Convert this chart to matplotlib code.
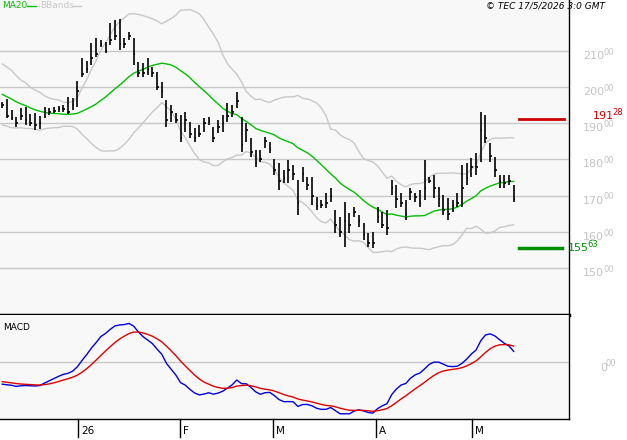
import numpy as np
import pandas as pd
import matplotlib
matplotlib.use("Agg")
import matplotlib.pyplot as plt

# prior closes (history for indicators, not drawn as bars)
prior_close = [196,198,201,203,205,207,209,210,211,210,212,211,213,212,210,211,209,208,207,206,
               207,205,204,206,203,201,202,200,198,199,197,196,195,197,194,193,195,192,193,194]

high = [195.9,196.7,193.6,191.7,194.2,194.5,192.5,192.8,192.0,194.5,194.2,194.5,194.8,195.0,197.2,196.9,201.6,
        208.0,207.2,212.2,213.5,213.0,212.4,217.7,218.5,218.8,213.5,215.2,213.5,206.9,206.6,208.0,205.5,204.1,
        201.4,196.4,195.0,192.8,192.3,193.1,190.3,188.7,189.5,
        191.4,191.7,189.0,190.9,192.3,195.6,195.0,198.6,191.7,190.1,185.9,182.6,182.6,186.2,184.8,180.1,179.0,
        177.1,179.8,178.5,174.3,177.9,175.1,175.1,169.6,168.8,170.7,172.1,166.0,164.1,168.2,165.2,166.9,164.6,
        162.4,159.7,159.9,166.9,165.5,166.0,
        174.3,172.9,170.7,168.8,172.1,170.7,171.5,179.8,175.1,175.7,172.4,170.2,169.3,168.8,170.7,178.5,179.0,
        180.4,181.8,193.1,192.3,184.5,180.7,175.7,175.7,175.7,172.9]
low = [194.2,191.4,190.9,189.0,190.9,189.5,189.2,188.1,188.4,191.4,192.3,192.8,193.1,193.1,192.5,193.6,194.5,
       202.8,203.9,206.1,208.3,211.0,209.4,211.6,213.0,210.2,210.8,213.0,206.1,202.8,202.8,203.3,202.8,199.2,
       197.0,189.0,190.3,190.1,184.8,187.6,185.9,184.8,186.2,
       187.6,189.5,184.8,187.3,187.6,190.3,191.7,194.2,182.0,184.8,180.7,177.9,179.3,183.1,181.8,175.7,171.5,
       173.5,173.5,174.3,164.6,173.8,171.5,167.4,166.0,166.6,166.6,168.2,159.7,158.6,155.8,159.7,164.1,161.3,
       157.7,155.8,155.5,162.4,161.0,159.1,
       170.2,166.6,166.9,163.3,168.8,168.2,166.9,168.8,173.5,169.3,166.9,164.6,163.3,165.5,166.9,166.9,172.9,
       175.1,175.7,179.3,184.5,179.3,175.1,172.1,172.1,172.9,168.2]
close = [195,192,191.5,190,192,191,190,189.5,190,193,193,193.5,194,194,193,195,199,
         203.5,205,208,209,212,210,213,214,212,212,214,209,204,204,205,204,200,
         199,191,193,191,186,191,187,186,187,
         190,190.5,186,189,190,192,193,196,184,188,182,179,180,185,183,177,174,
         175,177,176,168,176,173,170,167,167.5,168,170,162,160,163,162,165.5,163,
         159,157,157,164,162,161,
         172,169,168,165,171,169.5,168,172,174,172,169,166,165,167,168,172,175,
         178,178,188,186,181,177,174,173.5,174,169]

resistance = 191.28
support = 155.63
price_ticks = [150, 160, 170, 180, 190, 200, 210]
month_pos = [16.1, 37.9, 57.7, 79.7, 100.1]
month_labels = ["26", "F", "M", "A", "M"]

n = len(close)
allc = pd.Series(prior_close + close)
np_ = len(prior_close)
ma = allc.rolling(20).mean()
sd = allc.rolling(20).std(ddof=0)
up = (ma + 2 * sd).values[np_:]
dn = (ma - 2 * sd).values[np_:]
ma = ma.values[np_:]
ema12 = allc.ewm(span=12, adjust=False).mean()
ema26 = allc.ewm(span=26, adjust=False).mean()
macd = (ema12 - ema26)
sig = macd.ewm(span=9, adjust=False).mean()
macd = macd.values[np_:]
sig = sig.values[np_:]

x = np.arange(n)
W, H = 627, 440
fig = plt.figure(figsize=(6.27, 4.4), dpi=100, facecolor="white")
xl = (-0.49, 120.8)
ax = fig.add_axes([0, (H - 315) / H, 569 / W, 315 / H])
ax2 = fig.add_axes([0, (H - 419) / H, 569 / W, 104 / H])
for a in (ax, ax2):
    a.set_facecolor("#f8f8f8")
    a.set_xlim(*xl)
    a.set_xticks([]); a.set_yticks([])
    for s in a.spines.values():
        s.set_color("black"); s.set_linewidth(1)
    a.spines["left"].set_visible(False)
    a.spines["top"].set_visible(False)
ax.spines["bottom"].set_linewidth(2.5)

ylo = 150 - 47 / 3.62
yhi = 150 + 268 / 3.62
ax.set_ylim(ylo, yhi)
dy = 5 / 315
for p in price_ticks:
    ax.axhline(p, color="#c8c8c8", lw=1, zorder=0)
    yf = (p - ylo) / (yhi - ylo) - dy
    ax.text(583 / 569, yf, str(p), transform=ax.transAxes, color="#c4c4c4",
            fontsize=8, va="center", ha="left", clip_on=False)
    ax.text(603 / 569, yf + 0.012, "00", transform=ax.transAxes, color="#c4c4c4",
            fontsize=6, va="center", ha="left", clip_on=False)

ax.plot(x, up, color="#c8c8c8", lw=1)
ax.plot(x, dn, color="#c8c8c8", lw=1)
ax.plot(x, ma, color="#00c000", lw=1)
ax.vlines(x, low, high, color="black", lw=1.2)
ax.hlines(close, x, x + 0.35, color="black", lw=1.2)

ax.plot([110.2, 119.8], [resistance, resistance], color="#d00000", lw=2)
ax.plot([110.2, 119.4], [support, support], color="#009000", lw=2.5)
ry = (resistance - ylo) / (yhi - ylo) + 3 / 315
sy = (support - ylo) / (yhi - ylo)
ax.text(593 / 569, ry, "191", transform=ax.transAxes, color="#d00000", fontsize=8, va="center", clip_on=False)
ax.text(612 / 569, ry + 0.01, "28", transform=ax.transAxes, color="#d00000", fontsize=6, va="center", clip_on=False)
ax.text(568 / 569, sy, "155", transform=ax.transAxes, color="#009000", fontsize=8, va="center", clip_on=False)
ax.text(587 / 569, sy + 0.01, "63", transform=ax.transAxes, color="#009000", fontsize=6, va="center", clip_on=False)

fig.text(2 / W, 1 - 6 / H, "MA20", color="#00c000", fontsize=6.5, va="center")
fig.add_artist(plt.Line2D([27 / W, 36 / W], [1 - 6 / H] * 2, color="#00c000", lw=1))
fig.text(40 / W, 1 - 6 / H, "BBands", color="#c8c8c8", fontsize=6.5, va="center")
fig.add_artist(plt.Line2D([73 / W, 81 / W], [1 - 6 / H] * 2, color="#c8c8c8", lw=1))
fig.text(605 / W, 1 - 6 / H, "© TEC 17/5/2026 3:0 GMT", color="black", fontsize=6.5,
         va="center", ha="right", style="italic")

# MACD panel
hi_m = max(macd.max(), sig.max()) * 1.12
lo_m = -hi_m * 0.55 / 0.45
mn = min(macd.min(), sig.min())
if mn < lo_m * 0.9:
    lo_m = mn * 1.1
    hi_m = -lo_m * 0.45 / 0.55
ax2.set_ylim(lo_m, hi_m)
ax2.axhline(0, color="#c8c8c8", lw=1, zorder=0)
ax2.plot(x, macd, color="#0000e0", lw=1)
ax2.plot(x, sig, color="#e00000", lw=1)
ax2.text(0.005, 0.88, "MACD", transform=ax2.transAxes, fontsize=6.5, va="center")
z = (0 - lo_m) / (hi_m - lo_m) - 6 / 104
ax2.text(600 / 569, z, "0", transform=ax2.transAxes, color="#c4c4c4", fontsize=8, va="center", clip_on=False)
ax2.text(606 / 569, z + 0.04, "00", transform=ax2.transAxes, color="#c4c4c4", fontsize=6, va="center", clip_on=False)

for pos, lab in zip(month_pos, month_labels):
    xf = (pos - xl[0]) / (xl[1] - xl[0])
    ax2.plot([xf, xf], [0, -18 / 104], transform=ax2.transAxes, color="black", lw=1, clip_on=False)
    ax2.text(xf + 3 / 569, -12 / 104, lab, transform=ax2.transAxes, fontsize=7.5, va="center", clip_on=False)

fig.savefig("out.png", dpi=100)
